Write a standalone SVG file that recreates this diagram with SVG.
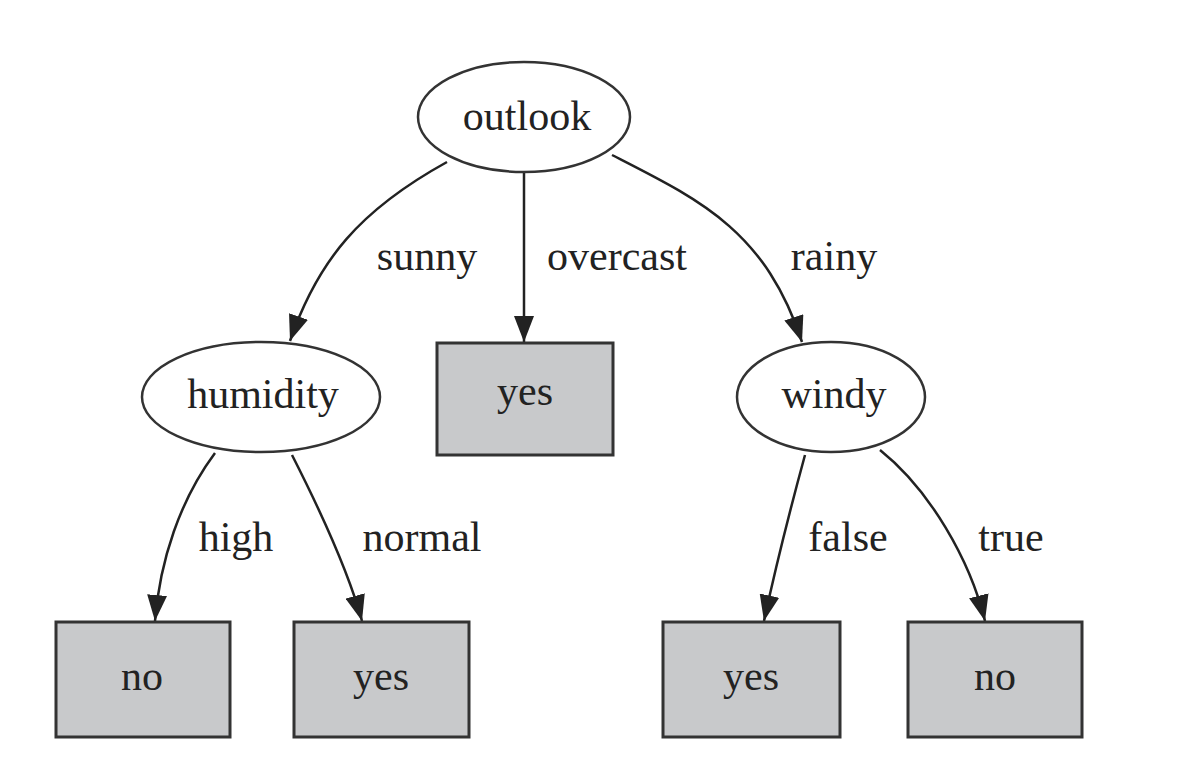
<svg xmlns="http://www.w3.org/2000/svg" width="1198" height="770" viewBox="0 0 1198 770">
<style>
.ell{fill:#fff;stroke:#333;stroke-width:2.5}
.box{fill:#c8c9cb;stroke:#333;stroke-width:3}
.t{font-family:"Liberation Serif",serif;font-size:42px;fill:#222;text-anchor:middle}
.e{fill:none;stroke:#222;stroke-width:2.5;marker-end:url(#ah)}
</style>
<defs>
<marker id="ah" viewBox="0 0 26 20" refX="26" refY="10" markerWidth="26" markerHeight="20" markerUnits="userSpaceOnUse" orient="auto">
<path d="M0,0 L26,10 L0,20 z" fill="#222"/>
</marker>
</defs>
<rect width="1198" height="770" fill="#fff"/>
<g id="connectors">
<path class="e" d="M447,162 C360,210 318,260 290,341"/>
<path class="e" d="M524,173 L524,342"/>
<path class="e" d="M612,155 C700,200 765,230 802,342"/>
<path class="e" d="M215,453 C180,500 160,560 155,621"/>
<path class="e" d="M292,455 C320,510 348,570 362,621"/>
<path class="e" d="M805,455 C790,510 775,570 764,621"/>
<path class="e" d="M880,450 C930,490 970,560 985,621"/>
<text class="t" x="427" y="270">sunny</text>
<text class="t" x="617" y="270">overcast</text>
<text class="t" x="834" y="270">rainy</text>
<text class="t" x="236" y="551">high</text>
<text class="t" x="422" y="551">normal</text>
<text class="t" x="848" y="551">false</text>
<text class="t" x="1011" y="551">true</text>
</g>
<g id="outlook"><ellipse class="ell" cx="524" cy="117" rx="106" ry="55"/><text class="t" x="527" y="130">outlook</text></g>
<g id="humidity"><ellipse class="ell" cx="261" cy="397" rx="119" ry="55"/><text class="t" x="263" y="408">humidity</text></g>
<g id="yes_overcast"><rect class="box" x="437" y="343" width="176" height="112"/><text class="t" x="525" y="405">yes</text></g>
<g id="windy"><ellipse class="ell" cx="831" cy="397" rx="94" ry="55"/><text class="t" x="834" y="408">windy</text></g>
<g id="no_high"><rect class="box" x="56" y="622" width="174" height="115"/><text class="t" x="142" y="690">no</text></g>
<g id="yes_normal"><rect class="box" x="294" y="622" width="175" height="115"/><text class="t" x="381" y="690">yes</text></g>
<g id="yes_false"><rect class="box" x="663" y="622" width="177" height="115"/><text class="t" x="751" y="690">yes</text></g>
<g id="no_true"><rect class="box" x="908" y="622" width="174" height="115"/><text class="t" x="995" y="690">no</text></g>
</svg>
